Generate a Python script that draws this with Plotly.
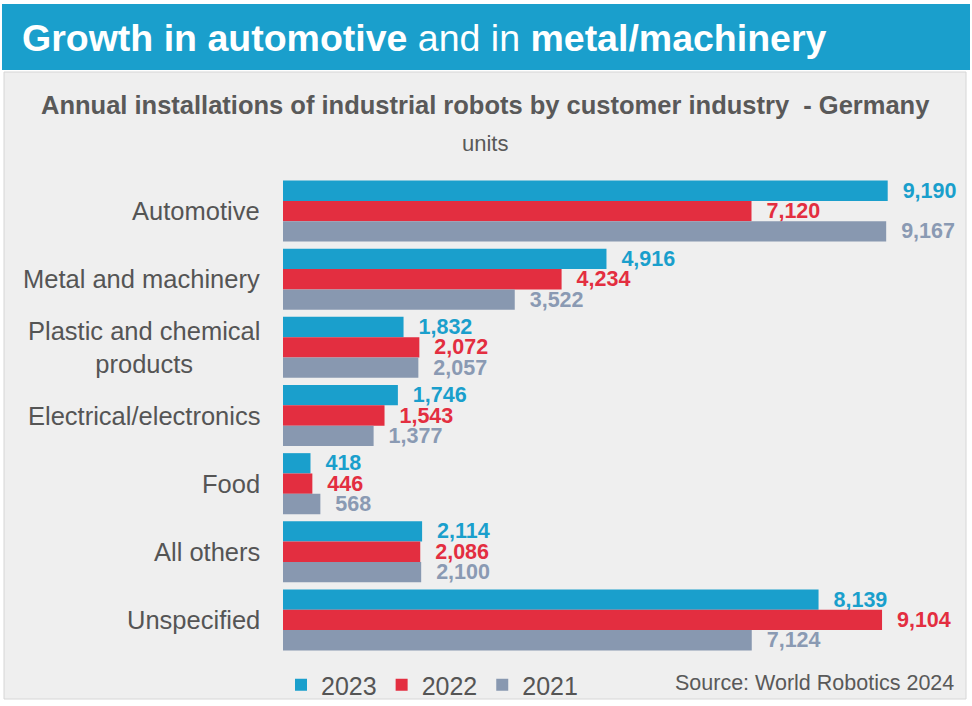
import plotly.graph_objects as go

categories = ["Automotive", "Metal and machinery", "Plastic and chemical<br>products",
              "Electrical/electronics", "Food", "All others", "Unspecified"]
years = ["2023", "2022", "2021"]
values_2023 = [9190, 4916, 1832, 1746, 418, 2114, 8139]
values_2022 = [7120, 4234, 2072, 1543, 446, 2086, 9104]
values_2021 = [9167, 3522, 2057, 1377, 568, 2100, 7124]

series = [values_2023, values_2022, values_2021]
bar_colors = ["#1a9fcc", "#e32e40", "#8898b0"]
label_colors = ["#1a9fcc", "#e32e40", "#8a9ab3"]

FONT = "Liberation Sans, Arial, sans-serif"
W, H = 972, 706
L, R, T, B = 283, 12, 177, 52
PW, PH = W - L - R, H - T - B


def px(x):
    return (x - L) / PW


def py(y):
    return (H - B - y) / PH


fig = go.Figure()
for name, vals, c, lc in zip(years, series, bar_colors, label_colors):
    fig.add_trace(go.Bar(
        y=categories, x=vals, name=name, orientation="h",
        marker=dict(color=c, line=dict(width=0)),
        texttemplate="\u00a0\u00a0%{x:,}", textposition="outside",
        textfont=dict(family=FONT, size=21.5, color=lc, weight="bold"),
        constraintext="none", cliponaxis=False, hoverinfo="skip",
    ))

shapes = [
    dict(type="rect", xref="paper", yref="paper", x0=px(4), x1=px(966), y0=py(699), y1=py(72),
         fillcolor="#efefef", line=dict(color="#d6d6d6", width=1), layer="below"),
    dict(type="rect", xref="paper", yref="paper", x0=px(2), x1=px(970), y0=py(70), y1=py(4),
         fillcolor="#1a9fcc", line=dict(width=0), layer="below"),
]

annotations = [
    dict(xref="paper", yref="paper", x=px(20), y=py(38), xanchor="left", yanchor="middle",
         text="<b>Growth in automotive</b> and in <b>metal/machinery</b>", showarrow=False,
         font=dict(family=FONT, size=37.5, color="white")),
    dict(xref="paper", yref="paper", x=px(485), y=py(105), xanchor="center", yanchor="middle",
         text="<b>Annual installations of industrial robots by customer industry  - Germany</b>",
         showarrow=False, font=dict(family=FONT, size=25.5, color="#595959")),
    dict(xref="paper", yref="paper", x=px(485), y=py(143), xanchor="center", yanchor="middle",
         text="units", showarrow=False, font=dict(family=FONT, size=22, color="#595959")),
    dict(xref="paper", yref="paper", x=px(956), y=py(683), xanchor="right", yanchor="middle",
         text="Source: World Robotics 2024", showarrow=False,
         font=dict(family=FONT, size=21.5, color="#595959")),
]
for cat in categories:
    annotations.append(dict(xref="paper", yref="y", x=0, y=cat, xanchor="right", yanchor="middle",
                            xshift=-21, text=cat, align="center", showarrow=False,
                            font=dict(family=FONT, size=25.5, color="#555555")))

fig.update_layout(
    width=W, height=H, margin=dict(l=L, r=R, t=T, b=B, pad=0, autoexpand=False),
    barmode="group", bargap=0.105, bargroupgap=0,
    paper_bgcolor="white", plot_bgcolor="rgba(0,0,0,0)",
    font=dict(family=FONT, color="#555555"),
    xaxis=dict(range=[0, PW / 0.0658], visible=False, fixedrange=True),
    yaxis=dict(autorange="reversed", showticklabels=False, showgrid=False, zeroline=False,
               showline=False, ticks="", fixedrange=True),
    legend=dict(orientation="h", xref="container", yref="container",
                x=281 / W, y=1 - 685 / H, xanchor="left", yanchor="middle",
                font=dict(family=FONT, size=25, color="#555555"), bgcolor="rgba(0,0,0,0)",
                itemwidth=30, traceorder="normal"),
    shapes=shapes, annotations=annotations, showlegend=True,
)

fig.write_html("out.html", config={"displayModeBar": False},
               post_script="document.body.style.margin='0';")
